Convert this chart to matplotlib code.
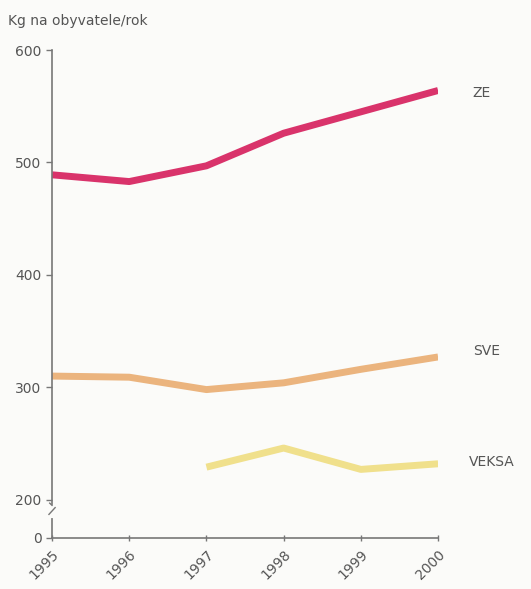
import matplotlib.pyplot as plt
import numpy as np

# values (kg per inhabitant per year)
years = [1995, 1996, 1997, 1998, 1999, 2000]
ze = [489, 483, 497, 526, 545, 564]
sve = [310, 309, 298, 304, 316, 327]
veksa_years = [1997, 1998, 1999, 2000]
veksa = [229, 246, 227, 232]

ytick_vals = [0, 200, 300, 400, 500, 600]
zero_pos = 166  # where "0" sits below the axis break

fig = plt.figure(figsize=(5.31, 5.89), dpi=100, facecolor='#fbfbf9')
ax = fig.add_axes([0.098, 0.0866, 0.727, 0.8285])
ax.set_facecolor('#fbfbf9')

ax.plot(years, ze, color='#d9336b', lw=5, solid_capstyle='butt')
ax.plot(years, sve, color='#ebb47e', lw=5, solid_capstyle='butt')
ax.plot(veksa_years, veksa, color='#f0e08c', lw=5, solid_capstyle='butt')

txt = '#555555'
ax.text(2000.45, ze[-1] - 2, 'ZE', color=txt, fontsize=10, va='center')
ax.text(2000.45, sve[-1] + 5, 'SVE', color=txt, fontsize=10, va='center')
ax.text(2000.4, veksa[-1] + 2, 'VEKSA', color=txt, fontsize=10, va='center')

ax.set_xlim(1995, 2000)
ax.set_ylim(zero_pos, 600)
ax.set_xticks(years)
ax.set_xticklabels([str(y) for y in years], rotation=45, ha='right', va='top',
                   rotation_mode='anchor', color=txt, fontsize=10)
ypos = [zero_pos] + ytick_vals[1:]
ax.set_yticks(ypos)
ax.set_yticklabels([str(v) for v in ytick_vals], color=txt, fontsize=10)

for s in ['top', 'right']:
    ax.spines[s].set_visible(False)
for s in ['left', 'bottom']:
    ax.spines[s].set_color('#777777')
    ax.spines[s].set_linewidth(1.2)
ax.tick_params(axis='y', direction='out', length=4, color='#777777', width=1)
ax.tick_params(axis='x', direction='inout', length=5, color='#777777', width=1, pad=4)

# axis break marks between 0 and 200
by = 190
ax.plot([1995, 1995], [by - 4, by + 4], color='#fbfbf9', lw=3, clip_on=False, zorder=5)
ax.plot([1994.96, 1995.0, 1995.04], [by - 3, by, by + 3], color='#777777', lw=1,
        clip_on=False, zorder=6)
ax.plot([1994.97, 1995.0], [by + 7, by + 5], color='#777777', lw=1, clip_on=False, zorder=6)

fig.text(0.015, 0.965, 'Kg na obyvatele/rok', color=txt, fontsize=10, va='center')

fig.savefig('out.png', dpi=100, facecolor=fig.get_facecolor())
